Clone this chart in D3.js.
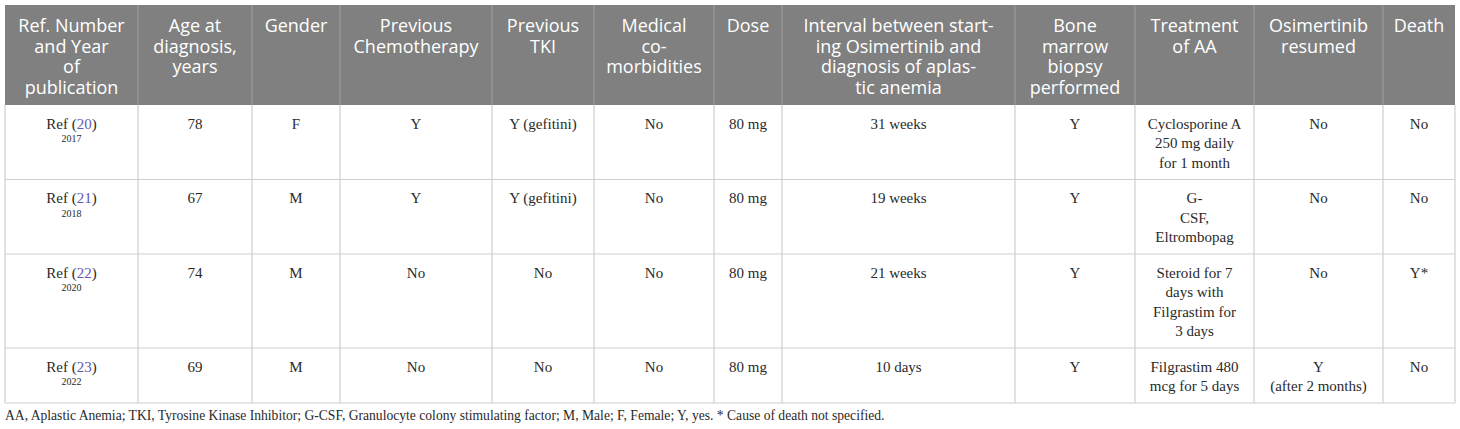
<!DOCTYPE html>
<html lang="en">
<head>
<meta charset="UTF-8">
<script src="https://d3js.org/d3.v7.min.js"></script>
<title>Osimertinib aplastic anemia cases</title>
<style>
html, body { margin: 0; padding: 0; background: #fff; }
.head-text { font-family: 'Open Sans', sans-serif; font-size: 18px; fill: #fff; }
.cell-text { font-family: 'Liberation Serif', 'Times New Roman', serif; font-size: 15px; fill: #2a2a2a; }
.year-text { font-family: 'Liberation Serif', serif; font-size: 10px; fill: #2a2a2a; }
.ref-link { fill: #6259ad; }
.note { font-family: 'Liberation Serif', serif; font-size: 13.6px; fill: #2a2a2a; }
</style>
</head>
<body>
<svg id="canvas"></svg>
<script>
// column headers, one entry per line as printed
let headers = [
    ['Ref. Number', 'and Year', 'of', 'publication'],
    ['Age at', 'diagnosis,', 'years'],
    ['Gender'],
    ['Previous', 'Chemotherapy'],
    ['Previous', 'TKI'],
    ['Medical', 'co-', 'morbidities'],
    ['Dose'],
    ['Interval between start-', 'ing Osimertinib and', 'diagnosis of aplas-', 'tic anemia'],
    ['Bone', 'marrow', 'biopsy', 'performed'],
    ['Treatment', 'of AA'],
    ['Osimertinib', 'resumed'],
    ['Death']
]

let refNums = ['20', '21', '22', '23']
let refYears = ['2017', '2018', '2020', '2022']
let ages = ['78', '67', '74', '69']
let genders = ['F', 'M', 'M', 'M']
let prevChemo = ['Y', 'Y', 'No', 'No']
let prevTKI = ['Y (gefitini)', 'Y (gefitini)', 'No', 'No']
let comorbidities = ['No', 'No', 'No', 'No']
let doses = ['80 mg', '80 mg', '80 mg', '80 mg']
let intervals = ['31 weeks', '19 weeks', '21 weeks', '10 days']
let biopsy = ['Y', 'Y', 'Y', 'Y']
let treatments = [
    ['Cyclosporine A', '250 mg daily', 'for 1 month'],
    ['G-', 'CSF,', 'Eltrombopag'],
    ['Steroid for 7', 'days with', 'Filgrastim for', '3 days'],
    ['Filgrastim 480', 'mcg for 5 days']
]
let resumed = [['No'], ['No'], ['No'], ['Y', '(after 2 months)']]
let deaths = ['No', 'No', 'Y*', 'No']

let footnote = 'AA, Aplastic Anemia; TKI, Tyrosine Kinase Inhibitor; G-CSF, Granulocyte colony stimulating factor; M, Male; F, Female; Y, yes. * Cause of death not specified.'

// layout
let width = 1460
let height = 429
let tableLeft = 5
let tableTop = 5
let colWidths = [133, 114, 88, 152, 102, 120, 68, 233, 120, 119, 129, 72]
let headHeight = 100
let headLine = 20.7
let bodyLine = 19.5

let svg = d3.select('#canvas').attr('width', width).attr('height', height)

let edges = Array.from(d3.cumsum([0].concat(colWidths)))
let xScale = d3.scaleLinear()
    .domain([0, d3.sum(colWidths)])
    .range([tableLeft, tableLeft + d3.sum(colWidths)])

let colX = (i) => xScale(edges[i])
let colMid = (i) => (xScale(edges[i]) + xScale(edges[i + 1])) / 2

// build row cells as arrays of lines
let rows = refNums.map((r, i) => [
    null,
    [ages[i]],
    [genders[i]],
    [prevChemo[i]],
    [prevTKI[i]],
    [comorbidities[i]],
    [doses[i]],
    [intervals[i]],
    [biopsy[i]],
    treatments[i],
    resumed[i],
    [deaths[i]]
])

let rowHeights = rows.map((row) => {
    let n = d3.max(row, (c) => c ? c.length : 2)
    return 16 + bodyLine * n
})
let rowTops = [tableTop + headHeight]
rowHeights.forEach((h, i) => rowTops.push(rowTops[i] + h))
let tableBottom = rowTops[rowTops.length - 1]

let yScale = d3.scaleOrdinal()
    .domain(d3.range(rows.length))
    .range(rowTops)

// header background
svg.append('rect')
    .attr('x', colX(0))
    .attr('y', tableTop)
    .attr('width', colX(colWidths.length) - colX(0))
    .attr('height', headHeight)
    .attr('fill', '#808080')

// body grid lines
let grid = svg.append('g')
grid.selectAll('.hline')
    .data(rowTops.slice(1))
    .enter()
    .append('line')
    .attr('x1', colX(0))
    .attr('x2', colX(colWidths.length))
    .attr('y1', (d) => d)
    .attr('y2', (d) => d)
    .attr('stroke', '#cfcfcf')
    .attr('stroke-width', 1.2)

grid.selectAll('.vline')
    .data(d3.range(colWidths.length + 1))
    .enter()
    .append('line')
    .attr('x1', (i) => colX(i))
    .attr('x2', (i) => colX(i))
    .attr('y1', tableTop + headHeight)
    .attr('y2', tableBottom)
    .attr('stroke', '#cfcfcf')
    .attr('stroke-width', 1.2)

// header separators
svg.selectAll('.hsep')
    .data(d3.range(1, colWidths.length))
    .enter()
    .append('line')
    .attr('x1', (i) => colX(i))
    .attr('x2', (i) => colX(i))
    .attr('y1', tableTop)
    .attr('y2', tableTop + headHeight)
    .attr('stroke', '#999999')
    .attr('stroke-width', 1.2)

// header text
let headG = svg.append('g')
headers.forEach((lines, i) => {
    let t = headG.append('text')
        .attr('class', 'head-text')
        .attr('text-anchor', 'middle')
    lines.forEach((line, k) => {
        t.append('tspan')
            .attr('x', colMid(i))
            .attr('y', tableTop + 27 + k * headLine)
            .text(line)
    })
})

// body text
let bodyG = svg.append('g')
rows.forEach((row, r) => {
    let y0 = yScale(r) + 23.5
    // ref column
    let ref = bodyG.append('text')
        .attr('class', 'cell-text')
        .attr('text-anchor', 'middle')
        .attr('x', colMid(0))
        .attr('y', y0)
    ref.append('tspan').text('Ref (')
    ref.append('tspan').attr('class', 'ref-link').text(refNums[r])
    ref.append('tspan').text(')')
    bodyG.append('text')
        .attr('class', 'year-text')
        .attr('text-anchor', 'middle')
        .attr('x', colMid(0))
        .attr('y', y0 + 13.5)
        .text(refYears[r])

    row.forEach((cell, c) => {
        if (!cell) return
        let t = bodyG.append('text')
            .attr('class', 'cell-text')
            .attr('text-anchor', 'middle')
        cell.forEach((line, k) => {
            t.append('tspan')
                .attr('x', colMid(c))
                .attr('y', y0 + k * bodyLine)
                .text(line)
        })
    })
})

// footnote
svg.append('text')
    .attr('class', 'note')
    .attr('x', tableLeft)
    .attr('y', tableBottom + 17)
    .text(footnote)
</script>
</body>
</html>
